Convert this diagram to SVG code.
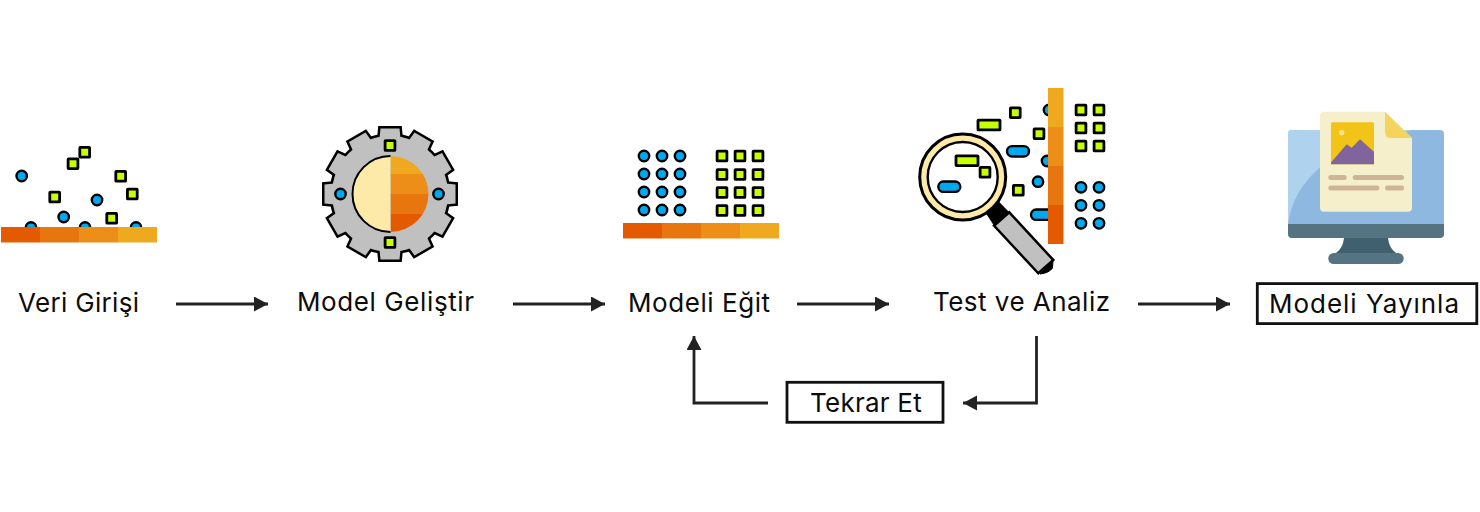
<svg xmlns="http://www.w3.org/2000/svg" xmlns:xlink="http://www.w3.org/1999/xlink" width="1480" height="512" viewBox="0 0 1480 512">
<style>
.s{fill:#C6FF00;stroke:#000;stroke-width:2.8}
.c{fill:#00A8F0;stroke:#000;stroke-width:2.4}
.o1{fill:#E35A00}.o2{fill:#E8760F}.o3{fill:#EC8E17}.o4{fill:#EEA91F}
.t{font-family:"Inter","Liberation Sans",sans-serif;font-size:26px;fill:#0c0c0c}
.box{fill:#fff;stroke:#111;stroke-width:2.8}
.line{fill:none;stroke:#222;stroke-width:2.8}
.head{fill:#222}
.ln{fill:#CDB596}
</style>
<defs>
<rect id="sq" class="s" x="-4.900" y="-4.900" width="9.800" height="9.800" rx="0.500"/>
<rect id="wide" class="s" x="-11" y="-4.900" width="22" height="9.800" rx="0.500"/>
<circle id="ci" class="c" r="5.200"/>
<rect id="pill" class="c" x="-11" y="-5.200" width="22" height="10.400" rx="5.200"/>
<path id="tooth" d="M-11-50L-9.500-65.500H9.500L11-50ZM-11 50L-9.500 65.500H9.500L11 50Z"/>
<g id="teeth">
<use xlink:href="#tooth"/>
<use xlink:href="#tooth" transform="rotate(30)"/>
<use xlink:href="#tooth" transform="rotate(60)"/>
<use xlink:href="#tooth" transform="rotate(90)"/>
<use xlink:href="#tooth" transform="rotate(120)"/>
<use xlink:href="#tooth" transform="rotate(150)"/>
<circle r="58"/>
</g>
<clipPath id="rightHalf"><path d="M390.500 156A38 38 0 0 1 390.500 232Z"/></clipPath>
<marker id="arrow" markerUnits="userSpaceOnUse" markerWidth="16" markerHeight="16" refX="14" refY="7.500" orient="auto"><path class="head" d="M0 0L14 7.500L0 15Z"/></marker>
</defs>

<g id="connectors">
<path class="line" marker-end="url(#arrow)" d="M176 304H268"/>
<path class="line" marker-end="url(#arrow)" d="M513 304H605"/>
<path class="line" marker-end="url(#arrow)" d="M797 304H889"/>
<path class="line" marker-end="url(#arrow)" d="M1138 304H1230"/>
<path class="line" marker-end="url(#arrow)" d="M1036.500 336V403H963"/>
<path class="line" marker-end="url(#arrow)" d="M768 403H694V336"/>
</g>

<g id="veri-girisi">
<use xlink:href="#ci" x="21.700" y="176"/><use xlink:href="#ci" x="97" y="200"/><use xlink:href="#ci" x="63.700" y="217"/>
<use xlink:href="#ci" x="31" y="227.500"/><use xlink:href="#ci" x="85" y="227.500"/><use xlink:href="#ci" x="136" y="227.500"/>
<use xlink:href="#sq" x="84.700" y="152.300"/><use xlink:href="#sq" x="73" y="163.700"/><use xlink:href="#sq" x="120.700" y="176.300"/>
<use xlink:href="#sq" x="132.300" y="194"/><use xlink:href="#sq" x="54.700" y="197"/><use xlink:href="#sq" x="111.700" y="218.300"/>
<rect class="o1" x="1" y="227" width="39" height="15.500"/><rect class="o2" x="40" y="227" width="39" height="15.500"/><rect class="o3" x="79" y="227" width="39" height="15.500"/><rect class="o4" x="118" y="227" width="39" height="15.500"/>
<text class="t" x="18" y="312" textLength="121">Veri Girişi</text>
</g>

<g id="model-gelistir">
<use xlink:href="#teeth" transform="translate(390 194)" fill="#000" stroke="#000" stroke-width="5"/>
<use xlink:href="#teeth" transform="translate(390 194)" fill="#C0C0C0"/>
<path d="M390.500 156A38 38 0 0 0 390.500 232Z" fill="#FDE9A8"/>
<path d="M390.500 156A38 38 0 0 0 390.500 232" fill="none" stroke="#000" stroke-width="2"/>
<g clip-path="url(#rightHalf)">
<rect class="o4" x="390.500" y="155" width="40" height="19"/><rect class="o3" x="390.500" y="174" width="40" height="20"/><rect class="o2" x="390.500" y="194" width="40" height="20"/><rect class="o1" x="390.500" y="214" width="40" height="19"/>
</g>
<use xlink:href="#sq" x="390" y="145.500"/><use xlink:href="#sq" x="390" y="242.500"/>
<use xlink:href="#ci" x="340.500" y="194"/><use xlink:href="#ci" x="438.500" y="194"/>
<text class="t" x="297" y="311" textLength="177">Model Geliştir</text>
</g>

<g id="modeli-egit">
<use xlink:href="#ci" x="644" y="156"/><use xlink:href="#ci" x="662" y="156"/><use xlink:href="#ci" x="680" y="156"/>
<use xlink:href="#ci" x="644" y="174"/><use xlink:href="#ci" x="662" y="174"/><use xlink:href="#ci" x="680" y="174"/>
<use xlink:href="#ci" x="644" y="192"/><use xlink:href="#ci" x="662" y="192"/><use xlink:href="#ci" x="680" y="192"/>
<use xlink:href="#ci" x="644" y="210"/><use xlink:href="#ci" x="662" y="210"/><use xlink:href="#ci" x="680" y="210"/>
<use xlink:href="#sq" x="722" y="156"/><use xlink:href="#sq" x="740" y="156"/><use xlink:href="#sq" x="758" y="156"/>
<use xlink:href="#sq" x="722" y="174.500"/><use xlink:href="#sq" x="740" y="174.500"/><use xlink:href="#sq" x="758" y="174.500"/>
<use xlink:href="#sq" x="722" y="192.500"/><use xlink:href="#sq" x="740" y="192.500"/><use xlink:href="#sq" x="758" y="192.500"/>
<use xlink:href="#sq" x="722" y="210.500"/><use xlink:href="#sq" x="740" y="210.500"/><use xlink:href="#sq" x="758" y="210.500"/>
<rect class="o1" x="623" y="223" width="39" height="15.500"/><rect class="o2" x="662" y="223" width="39" height="15.500"/><rect class="o3" x="701" y="223" width="39" height="15.500"/><rect class="o4" x="740" y="223" width="39" height="15.500"/>
<text class="t" x="628" y="312" textLength="142">Modeli Eğit</text>
</g>

<g id="test-ve-analiz">
<use xlink:href="#ci" x="1049" y="110"/><use xlink:href="#ci" x="1047" y="161"/><use xlink:href="#ci" x="1038" y="181.700"/>
<use xlink:href="#pill" x="1042" y="214.700"/><use xlink:href="#pill" x="1018" y="151.300"/>
<use xlink:href="#wide" x="989" y="125"/>
<use xlink:href="#sq" x="1015.300" y="112.700"/><use xlink:href="#sq" x="1039" y="133.700"/><use xlink:href="#sq" x="1018.300" y="190.300"/>
<rect class="o4" x="1048" y="88" width="15.500" height="39"/><rect class="o3" x="1048" y="127" width="15.500" height="39"/><rect class="o2" x="1048" y="166" width="15.500" height="39"/><rect class="o1" x="1048" y="205" width="15.500" height="39"/>
<use xlink:href="#sq" x="1081" y="110"/><use xlink:href="#sq" x="1099" y="110"/><use xlink:href="#sq" x="1081" y="128"/><use xlink:href="#sq" x="1099" y="128"/><use xlink:href="#sq" x="1081" y="146"/><use xlink:href="#sq" x="1099" y="146"/>
<use xlink:href="#ci" x="1081" y="187.300"/><use xlink:href="#ci" x="1099" y="187.300"/><use xlink:href="#ci" x="1081" y="205.300"/><use xlink:href="#ci" x="1099" y="205.300"/><use xlink:href="#ci" x="1081" y="223.300"/><use xlink:href="#ci" x="1099" y="223.300"/>
<path d="M985 212L997.300 200L1009.300 212.300L994 225.700Z" fill="#000"/>
<path d="M1053 260.500L1052.500 268Q1049 273 1040 274Z" fill="#000" stroke="#000"/>
<path d="M1009.300 212.300L1053.300 260L1038.300 273.300L994 225.700Z" fill="#C0C0C0" stroke="#000" stroke-width="2.500"/>
<circle cx="962.700" cy="177" r="43" fill="#FDE9A8" stroke="#000" stroke-width="3"/>
<circle cx="962.700" cy="177" r="35" fill="#fff" stroke="#000" stroke-width="2.400"/>
<use xlink:href="#wide" x="967" y="160.700"/><use xlink:href="#sq" x="985" y="172.300"/><use xlink:href="#pill" x="949.300" y="186.700"/>
<text class="t" x="933" y="311" textLength="177">Test ve Analiz</text>
</g>

<g id="modeli-yayinla">
<path d="M1292 130H1440Q1444 130 1444 134V224H1288V134Q1288 130 1292 130Z" fill="#8FB8E0"/>
<path d="M1288 224V134Q1288 130 1292 130H1412Q1340 145 1312 175Q1292 196 1288 224Z" fill="#AFD2EE"/>
<path d="M1344 238H1388Q1389 248 1396 253H1336Q1343 248 1344 238Z" fill="#40606F"/>
<rect x="1328.300" y="253" width="75.400" height="11" rx="5.500" fill="#537480"/>
<path d="M1288 224H1444V234Q1444 238 1440 238H1292Q1288 238 1288 234Z" fill="#537480"/>
<path d="M1324 111.700H1385L1412 138V207.700Q1412 211.700 1408 211.700H1324Q1320 211.700 1320 207.700V115.700Q1320 111.700 1324 111.700Z" fill="#F6EFCB"/>
<path d="M1385 111.700L1412 138H1391Q1385 138 1385 132Z" fill="#F5D45E"/>
<rect x="1331" y="122.300" width="43" height="42" rx="1.500" fill="#F3C418"/>
<circle cx="1341.700" cy="132.700" r="2.700" fill="#F8E08A"/>
<path d="M1331 164.300V162.500L1346.700 144.300L1351.700 147.700L1360 139.300L1374 151.700V164.300Z" fill="#7F659B"/>
<rect class="ln" x="1328.300" y="175" width="18.400" height="5" rx="2.500"/><rect class="ln" x="1352.700" y="175" width="51.300" height="5" rx="2.500"/>
<rect class="ln" x="1328.300" y="185.500" width="51" height="5" rx="2.500"/><rect class="ln" x="1385" y="185.500" width="19" height="5" rx="2.500"/>
<rect class="box" x="1257.300" y="283.600" width="219.500" height="40"/>
<text class="t" x="1269" y="312.700" textLength="190">Modeli Yayınla</text>
</g>

<g id="tekrar-et">
<rect class="box" x="787" y="382.300" width="156" height="40"/>
<text class="t" x="810" y="412" textLength="111.700">Tekrar Et</text>
</g>
</svg>
